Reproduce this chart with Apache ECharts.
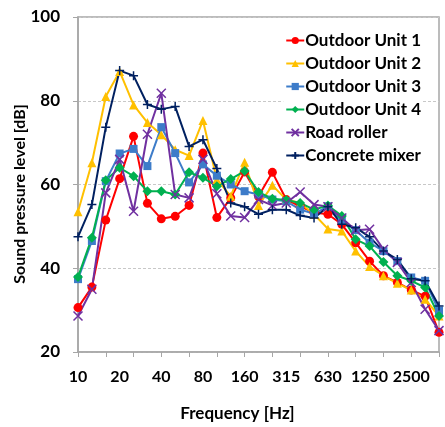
<!DOCTYPE html>
<html>
<head>
<meta charset="utf-8">
<script src="https://cdn.jsdelivr.net/npm/echarts@6/dist/echarts.min.js"></script>
<style>
  html,body{margin:0;padding:0;background:#fff;}
  #chart{width:445px;height:427px;}
</style>
</head>
<body>
<div id="chart"></div>
<script>
// 1/3 octave band centres
const freqs = ['10','12.5','16','20','25','31.5','40','50','63','80','100','125','160','200','250','315','400','500','630','800','1000','1250','1600','2000','2500','3150','4000']

const unit1 = [30.6,35.5,51.5,61.4,71.5,55.5,51.8,52.4,55,67.5,52.1,56.8,63,57.2,62.9,56.4,54.8,53.3,52.9,50.5,46.1,41.7,38.2,36.6,34.8,33.3,24.7]
const unit2 = [53.5,65.2,81,87,79,74.8,71.9,68.3,66.9,75.3,61.2,57.2,65.3,55,59.8,56.4,55.6,52.9,49.4,48.9,44.1,40.4,38.2,36.4,34.8,32.6,28.6]
const unit3 = [37.4,46.5,60.8,67.4,68.5,64.4,73.7,67.5,60.5,64.8,62.1,60,58.4,57.6,56.4,56,54,53,54.8,51.3,49.1,46.1,44.1,41.7,37.8,37,29.8]
const unit4 = [37.9,47.3,61,64,62,58.4,58.4,57.6,62.9,61.6,59.6,61.3,63.2,58.2,56.6,56.3,55.6,54,55,52.5,46.9,45.3,41.5,38.2,37,35.4,28.6]
const roller = [28.6,35,58,66,53.6,72,81.8,57.6,56.8,66,57.8,52.5,52.1,56.4,55,55.6,58.2,55.2,54.7,52,49.1,49.3,44.5,41.4,36.6,30.2,25.1]
const mixer = [47.5,55.2,73.7,87.2,86,79.1,78,78.6,69.1,70.7,63.8,55.6,54.7,52.9,54,54,52.6,52,54.7,50.5,49.7,47.5,44.1,42.1,37.5,37,31]

const yTicks = [20, 40, 60, 80, 100]
const yTitle = 'Sound pressure level [dB]'

const FONT = 'Lato'
const crossPath = 'path://M0,0L10,10M10,0L0,10'
const plusPath = 'path://M5,0L5,10M0,5L10,5'

function mkSeries(name, data, color, symbol, size, stroke){
  let s = {
    name: name,
    type: 'line',
    data: data,
    symbol: symbol,
    symbolSize: size,
    showAllSymbol: true,
    lineStyle: { color: color, width: 2 },
    itemStyle: { color: color },
    emphasis: { disabled: true }
  }
  if (stroke) {
    s.itemStyle = { color: 'none', borderColor: color, borderWidth: 1.5 }
  }
  return s
}

let chart = echarts.init(document.getElementById('chart'))
chart.setOption({
  animation: false,
  backgroundColor: '#fff',
  grid: {
    left: 78, right: 6, top: 17, bottom: 74,
    show: true, borderColor: '#a6a6a6', borderWidth: 1.5
  },
  // y title placed by hand, the axis name would not shift down
  graphic: [{
    type: 'text',
    x: 20, y: 194,
    rotation: Math.PI / 2,
    style: {
      text: yTitle,
      fontFamily: FONT, fontWeight: 'bold', fontSize: 16, fill: '#000',
      align: 'center', verticalAlign: 'middle'
    }
  }],
  legend: {
    orient: 'vertical',
    right: 22, top: 30,
    itemGap: 6,
    itemWidth: 18, itemHeight: 9,
    backgroundColor: '#fff',
    padding: [2, 2, 2, 2],
    textStyle: { fontFamily: FONT, fontWeight: 'bold', fontSize: 17, color: '#000', padding: [0, 0, 0, -4] },
    data: ['Outdoor Unit 1','Outdoor Unit 2','Outdoor Unit 3','Outdoor Unit 4','Road roller','Concrete mixer']
  },
  xAxis: {
    type: 'category',
    data: freqs,
    boundaryGap: false,
    name: 'Frequency [Hz]',
    nameLocation: 'middle',
    nameGap: 53,
    nameTextStyle: { fontFamily: FONT, fontWeight: 'bold', fontSize: 17, color: '#000', padding: [0, 42, 0, 0] },
    axisLine: { lineStyle: { color: '#a6a6a6', width: 1.5 } },
    axisTick: { interval: 1, length: 5, lineStyle: { color: '#a6a6a6' } },
    axisLabel: { interval: 2, margin: 17, fontFamily: FONT, fontWeight: 'bold', fontSize: 16, color: '#000' },
    splitLine: { show: false }
  },
  yAxis: {
    type: 'value',
    min: yTicks[0], max: yTicks[yTicks.length - 1], interval: 20,
    axisLine: { show: true, lineStyle: { color: '#a6a6a6', width: 1.5 } },
    axisTick: { show: true, length: 5, lineStyle: { color: '#a6a6a6' } },
    axisLabel: { margin: 18, fontFamily: FONT, fontWeight: 'bold', fontSize: 17, color: '#000' },
    splitLine: { lineStyle: { color: '#c8c8c8', type: [3, 2] } }
  },
  series: [
    mkSeries('Outdoor Unit 1', unit1, '#ff0000', 'circle', 9),
    mkSeries('Outdoor Unit 2', unit2, '#ffc000', 'triangle', 9),
    mkSeries('Outdoor Unit 3', unit3, '#3d7cc9', 'rect', 8),
    mkSeries('Outdoor Unit 4', unit4, '#00b050', 'diamond', 10),
    mkSeries('Road roller', roller, '#7030a0', crossPath, 9, true),
    mkSeries('Concrete mixer', mixer, '#002060', plusPath, 9, true)
  ]
})
</script>
</body>
</html>
